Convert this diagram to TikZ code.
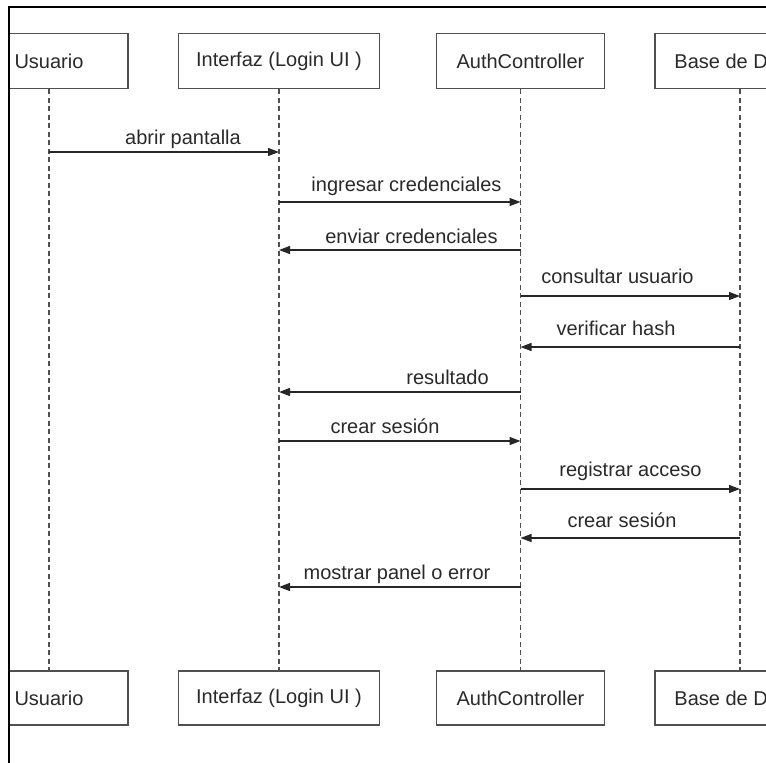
\documentclass[tikz,border=0pt]{standalone}
\usepackage{fontspec}
\setmainfont{Liberation Sans}
\usetikzlibrary{arrows.meta}
\definecolor{boxline}{HTML}{505050}
\definecolor{txt}{HTML}{2A2A2A}
\begin{document}
\begin{tikzpicture}[x=1pt,y=-1pt,
  actor/.style={draw=boxline, line width=1.5pt, fill=white, minimum height=55pt,
    inner sep=0pt, text=txt, font=\fontsize{20}{24}\selectfont},
  life/.style={draw=boxline, line width=1.5pt, dash pattern=on 5pt off 3.5pt},
  msg/.style={draw=black!85, line width=1.3pt, -{Triangle[length=11pt,width=8pt]}},
  lbl/.style={anchor=base, inner sep=0pt, text=txt, font=\fontsize{20}{24}\selectfont}]
\useasboundingbox (0,0) rectangle (766,763);
\clip (0,0) rectangle (766,763);
\fill[white] (0,0) rectangle (766,763);
\begin{scope}
\clip (9.5,0) rectangle (766,763);
% top actor boxes
\node[actor, minimum width=158pt] (uT) at (49,61) {Usuario};
\node[actor, minimum width=201pt] (iT) at (279,61) {Interfaz (Login UI )};
\node[actor, minimum width=168pt] (aT) at (520.5,61) {AuthController};
\node[actor, minimum width=170pt] (bT) at (740,61) {Base de Datos};
% bottom actor boxes
\node[actor, minimum width=158pt, minimum height=54pt] (uB) at (49,698) {Usuario};
\node[actor, minimum width=201pt, minimum height=54pt] (iB) at (279,698) {Interfaz (Login UI )};
\node[actor, minimum width=168pt, minimum height=54pt] (aB) at (520.5,698) {AuthController};
\node[actor, minimum width=170pt, minimum height=54pt] (bB) at (740,698) {Base de Datos};
% lifelines
\draw[life] (uT.south) -- (uB.north);
\draw[life] (iT.south) -- (iB.north);
\draw[life] (aT.south) -- (aB.north);
\draw[life] (bT.south) -- (bB.north);
% message rows
\coordinate (r1) at (0,152);
\coordinate (r2) at (0,202);
\coordinate (r3) at (0,250);
\coordinate (r4) at (0,296);
\coordinate (r5) at (0,347);
\coordinate (r6) at (0,392);
\coordinate (r7) at (0,441);
\coordinate (r8) at (0,489);
\coordinate (r9) at (0,538);
\coordinate (r10) at (0,587);
\draw[msg] (uT |- r1) -- (iT |- r1);
\draw[msg] (iT |- r2) -- (aT |- r2);
\draw[msg] (aT |- r3) -- (iT |- r3);
\draw[msg] (aT |- r4) -- (bT |- r4);
\draw[msg] (bT |- r5) -- (aT |- r5);
\draw[msg] (aT |- r6) -- (iT |- r6);
\draw[msg] (iT |- r7) -- (aT |- r7);
\draw[msg] (aT |- r8) -- (bT |- r8);
\draw[msg] (bT |- r9) -- (aT |- r9);
\draw[msg] (aT |- r10) -- (iT |- r10);
% labels
\node[lbl] (l1) at (183,144) {abrir pantalla};
\node[lbl] (l2) at (406.5,191) {ingresar credenciales};
\node[lbl] (l3) at (411.5,243) {enviar credenciales};
\node[lbl] (l4) at (617.5,283) {consultar usuario};
\node[lbl] (l5) at (616,335) {verificar hash};
\node[lbl] (l6) at (447.5,384) {resultado};
\node[lbl] (l7) at (385,433) {crear sesión};
\node[lbl] (l8) at (630.5,476) {registrar acceso};
\node[lbl] (l9) at (622,527) {crear sesión};
\node[lbl] (l10) at (397,579) {mostrar panel o error};
\end{scope}
% outer frame (cropped)
\draw[black, line width=1.6pt] (9,770) -- (9,7) -- (780,7);
\end{tikzpicture}
\end{document}
